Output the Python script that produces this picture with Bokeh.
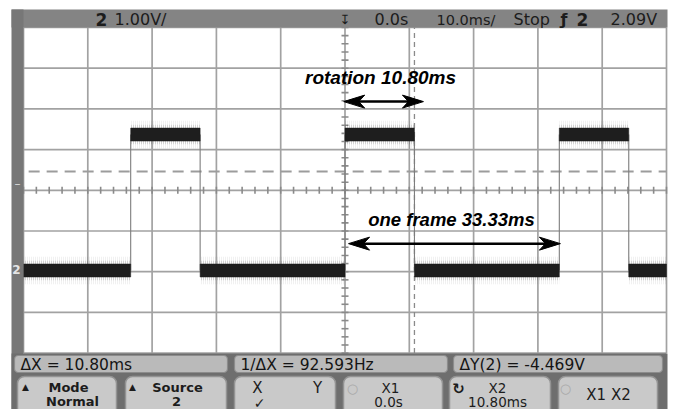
from bokeh.plotting import figure
from bokeh.models import Range1d, BoxAnnotation, Label
from bokeh.embed import file_html
from bokeh.resources import INLINE

# ---------------- scope data ----------------
time_per_div_ms = 10.0
volts_per_div = 1.0
n_hdiv = 10
n_vdiv = 8
grid_top_v = 5.97            # volts at the top graticule line (ground offset)
rise_ms = [-33.33, 0.00, 33.33]
fall_ms = [-22.53, 10.80, 44.13]
high_v = 3.34
low_v = 0.0
trig_v = 2.43
cursor_x1_ms = 0.0
cursor_x2_ms = 10.80
arrow_rot_ms = [-0.2, 12.2]
arrow_rot_v = 4.15
arrow_frame_ms = [0.55, 33.5]
arrow_frame_v = 0.66

top_texts = ["1.00V/", "0.0s", "10.0ms/", "Stop", "2.09V"]
status_texts = ["\u0394X = 10.80ms", "1/\u0394X = 92.593Hz", "\u0394Y(2) = -4.469V"]

# ---------------- pixel <-> data mapping (layout only) ----------------
X0, PXMS = 344.5, 6.43      # reference px of t=0, px per ms
Y0, PXV = 270.0, 40.7       # reference px of 0 V, px per volt
OFF = 0


def X(px):
    return (px - X0) / PXMS


def Y(py):
    return (Y0 - py) / PXV


W, H = 673, 409
p = figure(width=W, height=H, output_backend="svg", toolbar_location=None,
           x_range=Range1d(X(OFF), X(OFF + W)), y_range=Range1d(Y(OFF + H), Y(OFF)),
           x_axis_location=None, y_axis_location=None, min_border=0)
p.outline_line_color = None
p.background_fill_color = "white"
p.border_fill_color = "white"
p.grid.visible = False

t_min = -n_hdiv / 2 * time_per_div_ms
t_max = n_hdiv / 2 * time_per_div_ms
v_top = grid_top_v
v_bot = grid_top_v - n_vdiv * volts_per_div
v_mid = (v_top + v_bot) / 2

# graticule
tl = [t_min + k * time_per_div_ms for k in range(n_hdiv + 1)]
vl = [v_top - k * volts_per_div for k in range(n_vdiv + 1)]
p.segment(x0=tl, y0=[v_bot] * len(tl), x1=tl, y1=[v_top] * len(tl), color="#a2a2a2", line_width=1.7)
p.segment(x0=[t_min] * len(vl), y0=vl, x1=[t_max] * len(vl), y1=vl, color="#a2a2a2", line_width=1.7)

# center axis minor ticks
tt = [t_min + k * time_per_div_ms / 5 for k in range(int(n_hdiv * 5) + 1)]
dv = 3.5 / PXV
p.segment(x0=tt, y0=[v_mid - dv] * len(tt), x1=tt, y1=[v_mid + dv] * len(tt), color="#8a8a8a", line_width=1.6)
vt = [v_bot + k * volts_per_div / 5 for k in range(n_vdiv * 5 + 1)]
dt = 3.5 / PXMS
p.segment(x0=[-dt] * len(vt), y0=vt, x1=[dt] * len(vt), y1=vt, color="#8a8a8a", line_width=1.6)

# trigger level (dashed)
p.line([t_min + 0.8, t_max], [trig_v, trig_v], color="#9c9c9c", line_width=2, line_dash="11 7")
# cursor X2 (dashed)
p.line([cursor_x2_ms, cursor_x2_ms], [v_bot, v_top], color="#8a8a8a", line_width=1.3, line_dash="5 4")

# trace edges
edges = rise_ms + fall_ms
p.segment(x0=edges, y0=[low_v] * len(edges), x1=edges, y1=[high_v] * len(edges), color="#7c7c7c", line_width=1.1)

# flat segments
hi_l, hi_r = rise_ms, fall_ms
lo_l = [t_min] + fall_ms
lo_r = rise_ms + [t_max]
lefts = hi_l + lo_l
rights = hi_r + lo_r
levels = [high_v] * len(hi_l) + [low_v] * len(lo_l)
for half, alpha in ((0.34, 0.13), (0.24, 0.3)):
    p.quad(left=lefts, right=rights, bottom=[v - half for v in levels], top=[v + half for v in levels],
           fill_alpha=0, line_alpha=0, hatch_pattern="vertical_line", hatch_color="#2a2a2a",
           hatch_alpha=alpha, hatch_scale=2, hatch_weight=1)
p.quad(left=lefts, right=rights, bottom=[v - 0.16 for v in levels], top=[v + 0.16 for v in levels],
       fill_color="#1e1e1e", line_color="#1e1e1e", line_width=0.5)

# measurement arrows
L, NOTCH, HW = 21 / PXMS, 15 / PXMS, 6.5 / PXV
for (a, b), yv in ((arrow_rot_ms, arrow_rot_v), (arrow_frame_ms, arrow_frame_v)):
    p.segment(x0=[a + NOTCH * 0.8], y0=[yv], x1=[b - NOTCH * 0.8], y1=[yv], color="black", line_width=2.5)
    xs = [[a, a + L, a + NOTCH, a + L], [b, b - L, b - NOTCH, b - L]]
    ys = [[yv, yv + HW, yv, yv - HW], [yv, yv + HW, yv, yv - HW]]
    p.patches(xs, ys, fill_color="black", line_color="black", line_width=1)

FONT = "DejaVu Sans"


def lab(px, py, text, size="16px", style="normal", color="#1c1c1c", align="left", font=FONT):
    p.add_layout(Label(x=X(px), y=Y(py), text=text, text_font=font, text_font_size=size,
                       text_font_style=style, text_color=color, text_align=align,
                       text_baseline="middle"))


def box(l, r, t, b, fill, line=None, radius=0, lw=1.2):
    p.add_layout(BoxAnnotation(left=X(l), right=X(r), top=Y(t), bottom=Y(b), fill_color=fill,
                               fill_alpha=1, line_color=line, line_alpha=1 if line else 0,
                               line_width=lw, border_radius=radius, line_dash="solid"))


# annotation texts
lab(380, 77, "rotation 10.80ms", size="19px", style="bold italic", color="black", align="center",
    font="Liberation Sans")
lab(451, 219, "one frame 33.33ms", size="18.5px", style="bold italic", color="black", align="center",
    font="Liberation Sans")

# scope chrome: frame
box(11, 667, 9, 27, "#848484")
box(11, 23, 9, 412, "#777777")
box(11, 667, 353, 412, "#6e6e6e")

# top bar texts
lab(95, 19, "2", size="17px", style="bold")
lab(114, 19, top_texts[0])
lab(374, 19, top_texts[1])
lab(436, 19, top_texts[2], size="14.5px")
lab(513, 19, top_texts[3])
lab(560, 19, "\u0192", size="16px", style="bold")
lab(576, 19, "2", size="17px", style="bold")
lab(610, 19, top_texts[4])
# trigger position marker
p.add_layout(Label(x=0, y=Y(19), text="\u21a7", text_font=FONT, text_font_size="13px",
                   text_color="#1c1c1c", text_align="center", text_baseline="middle"))

# left edge markers
lab(17, 183, "\u2013", size="12px", color="#d8d8d8", align="center")
lab(16, 269, "2", size="12px", style="bold", color="#e4e4e4", align="center")

# status bar
for (l, r), txt in zip([(14, 227), (234, 447), (453, 662)], status_texts):
    box(l, r, 355, 372, "#bababa", "#8c8c8c", radius=4)
    lab(l + 6, 364, txt, size="15.5px", color="#141414")

# soft keys
keys = [(17, 116), (125, 226), (234, 335), (343, 442), (449, 550), (558, 657)]
for l, r in keys:
    box(l, r, 376, 416, "#c9c9c9", "#939393", radius=7, lw=1.5)

lab(25, 386, "\u25b2", size="9px", align="center")
lab(68, 387, "Mode", size="13px", style="bold", align="center")
lab(72, 401, "Normal", size="13px", style="bold", align="center")
lab(132, 386, "\u25b2", size="9px", align="center")
lab(177, 387, "Source", size="13px", style="bold", align="center")
lab(176, 401, "2", size="13px", style="bold", align="center")
lab(257, 387, "X", size="15px", align="center")
lab(317, 387, "Y", size="15px", align="center")
lab(259, 402, "\u2713", size="14px", align="center")
lab(352, 388, "\u25cb", size="13px", color="#a8a8a8", align="center")
lab(390, 387, "X1", size="13.5px", align="center")
lab(388, 401, "0.0s", size="13.5px", align="center")
lab(458, 388, "\u21bb", size="15px", style="bold", align="center")
lab(497, 387, "X2", size="13.5px", align="center")
lab(497, 401, "10.80ms", size="13.5px", align="center")
lab(565, 388, "\u25cb", size="13px", color="#a8a8a8", align="center")
lab(608, 394, "X1 X2", size="15px", align="center")

open("out.html", "w").write(file_html(p, INLINE))
